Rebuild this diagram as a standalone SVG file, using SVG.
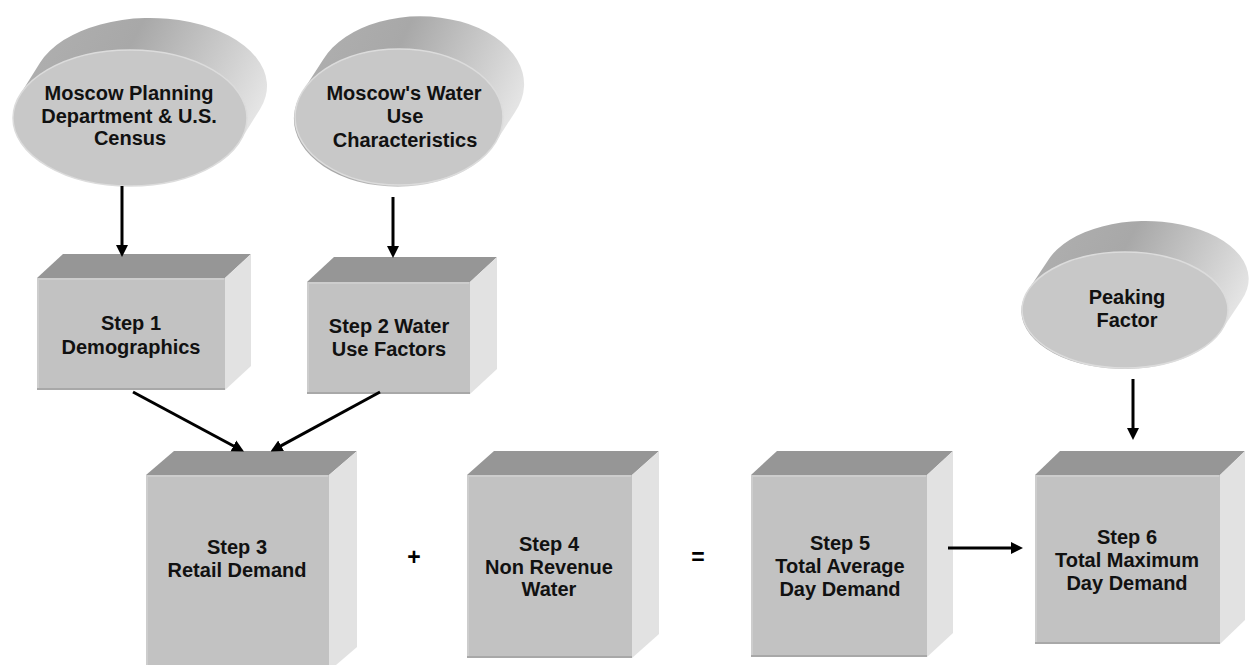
<svg xmlns="http://www.w3.org/2000/svg" width="1249" height="665" viewBox="0 0 1249 665">
<defs>
<style>
.top{fill:#969696}
.front{fill:#c2c2c2}
.side{fill:#e2e2e2}
.hl{stroke:#cdcdcd;stroke-width:2;fill:none}
.sh{stroke:#a8a8a8;stroke-width:2;fill:none}
.body{fill:url(#bodyg)}
.face{fill:#c8c8c8;stroke:#dcdcdc;stroke-width:1.5}
.t{font-family:"Liberation Sans",Arial,sans-serif;font-weight:bold;font-size:20px;fill:#111;text-anchor:middle}
.op{font-family:"Liberation Sans",Arial,sans-serif;font-weight:bold;font-size:23px;fill:#000;text-anchor:middle}
.conn line{stroke:#000;stroke-width:3;marker-end:url(#ah)}
</style>
<linearGradient id="bodyg" x1="0" y1="0.2" x2="1" y2="0.55">
<stop offset="0" stop-color="#b0b0b0"/>
<stop offset="0.4" stop-color="#a8a8a8"/>
<stop offset="0.8" stop-color="#d2d2d2"/>
<stop offset="1" stop-color="#e8e8e8"/>
</linearGradient>
<marker id="ah" viewBox="0 0 12 13" refX="6" refY="6.5" markerWidth="12" markerHeight="13" markerUnits="userSpaceOnUse" orient="auto">
<path d="M0,0.5 L12,6.5 L0,12.5 z" fill="#000"/>
</marker>
</defs>
<rect width="1249" height="665" fill="#fff"/>

<g id="src-planning">
<path class="body" d="M20,94.8 L40,62.8 A117,68 0 1 1 260,109.2 L240,141.2 A117,68 0 1 1 20,94.8 Z"/>
<ellipse class="face" cx="130" cy="118" rx="117" ry="68"/>
<text class="t" x="129" y="100">Moscow Planning</text>
<text class="t" x="129" y="123">Department &amp; U.S.</text>
<text class="t" x="130" y="145">Census</text>
</g>

<g id="src-wateruse">
<path class="body" d="M303.2,90.6 L323.2,59.6 A104,68 0 1 1 514.8,112.4 L494.8,143.4 A104,68 0 1 1 303.2,90.6 Z"/>
<ellipse class="face" cx="399" cy="117" rx="104" ry="68"/>
<text class="t" x="404" y="100">Moscow's Water</text>
<text class="t" x="405" y="123">Use</text>
<text class="t" x="405" y="147">Characteristics</text>
</g>

<g id="src-peaking">
<path class="body" d="M1028.6,289.6 L1048.6,259.6 A103,58 0 1 1 1241.4,300.4 L1221.4,330.4 A103,58 0 1 1 1028.6,289.6 Z"/>
<ellipse class="face" cx="1125" cy="310" rx="103" ry="58"/>
<text class="t" x="1127" y="304">Peaking</text>
<text class="t" x="1127" y="327">Factor</text>
</g>

<g id="step1">
<polygon class="top" points="37,278 63,254 251,254 225,278"/>
<polygon class="side" points="225,278 251,254 251,366 225,390"/>
<rect class="front" x="37" y="278" width="188" height="112"/>
<path class="hl" d="M38,389 V279 H224"/>
<path class="sh" d="M37,389 H225"/>
<text class="t" x="131" y="330">Step 1</text>
<text class="t" x="131" y="354">Demographics</text>
</g>

<g id="step2">
<polygon class="top" points="307,282 334,257 497,257 470,282"/>
<polygon class="side" points="470,282 497,257 497,369 470,394"/>
<rect class="front" x="307" y="282" width="163" height="112"/>
<path class="hl" d="M308,393 V283 H469"/>
<path class="sh" d="M307,393 H470"/>
<text class="t" x="389" y="333">Step 2 Water</text>
<text class="t" x="389" y="356">Use Factors</text>
</g>

<g id="step3">
<polygon class="top" points="146,475 174,451 357,451 329,475"/>
<polygon class="side" points="329,475 357,451 357,647 329,671"/>
<rect class="front" x="146" y="475" width="183" height="196"/>
<path class="hl" d="M147,671 V476 H328"/>
<text class="t" x="237" y="554">Step 3</text>
<text class="t" x="237" y="577">Retail Demand</text>
</g>

<g id="step4">
<polygon class="top" points="467,475 494,451 659,451 632,475"/>
<polygon class="side" points="632,475 659,451 659,634 632,658"/>
<rect class="front" x="467" y="475" width="165" height="183"/>
<path class="hl" d="M468,657 V476 H631"/>
<path class="sh" d="M467,657 H632"/>
<text class="t" x="549" y="551">Step 4</text>
<text class="t" x="549" y="574">Non Revenue</text>
<text class="t" x="549" y="596">Water</text>
</g>

<g id="step5">
<polygon class="top" points="751,475 777,451 953,451 927,475"/>
<polygon class="side" points="927,475 953,451 953,633 927,657"/>
<rect class="front" x="751" y="475" width="176" height="182"/>
<path class="hl" d="M752,656 V476 H926"/>
<path class="sh" d="M751,656 H927"/>
<text class="t" x="840" y="550">Step 5</text>
<text class="t" x="840" y="573">Total Average</text>
<text class="t" x="840" y="596">Day Demand</text>
</g>

<g id="step6">
<polygon class="top" points="1035,475 1060,451 1245,451 1220,475"/>
<polygon class="side" points="1220,475 1245,451 1245,620 1220,644"/>
<rect class="front" x="1035" y="475" width="185" height="169"/>
<path class="hl" d="M1036,643 V476 H1219"/>
<path class="sh" d="M1035,643 H1220"/>
<text class="t" x="1127" y="544">Step 6</text>
<text class="t" x="1127" y="567">Total Maximum</text>
<text class="t" x="1127" y="590">Day Demand</text>
</g>

<g id="operators">
<text class="op" x="414" y="565">+</text>
<text class="op" x="698" y="565">=</text>
</g>

<g id="connectors" class="conn">
<line x1="122" y1="186" x2="122" y2="251"/>
<line x1="393" y1="197" x2="393" y2="252"/>
<line x1="133" y1="392" x2="238.7" y2="448.7"/>
<line x1="380" y1="392" x2="275.8" y2="448.6"/>
<line x1="1133" y1="379" x2="1133" y2="434"/>
<line x1="948" y1="548" x2="1017" y2="548"/>
</g>
</svg>
